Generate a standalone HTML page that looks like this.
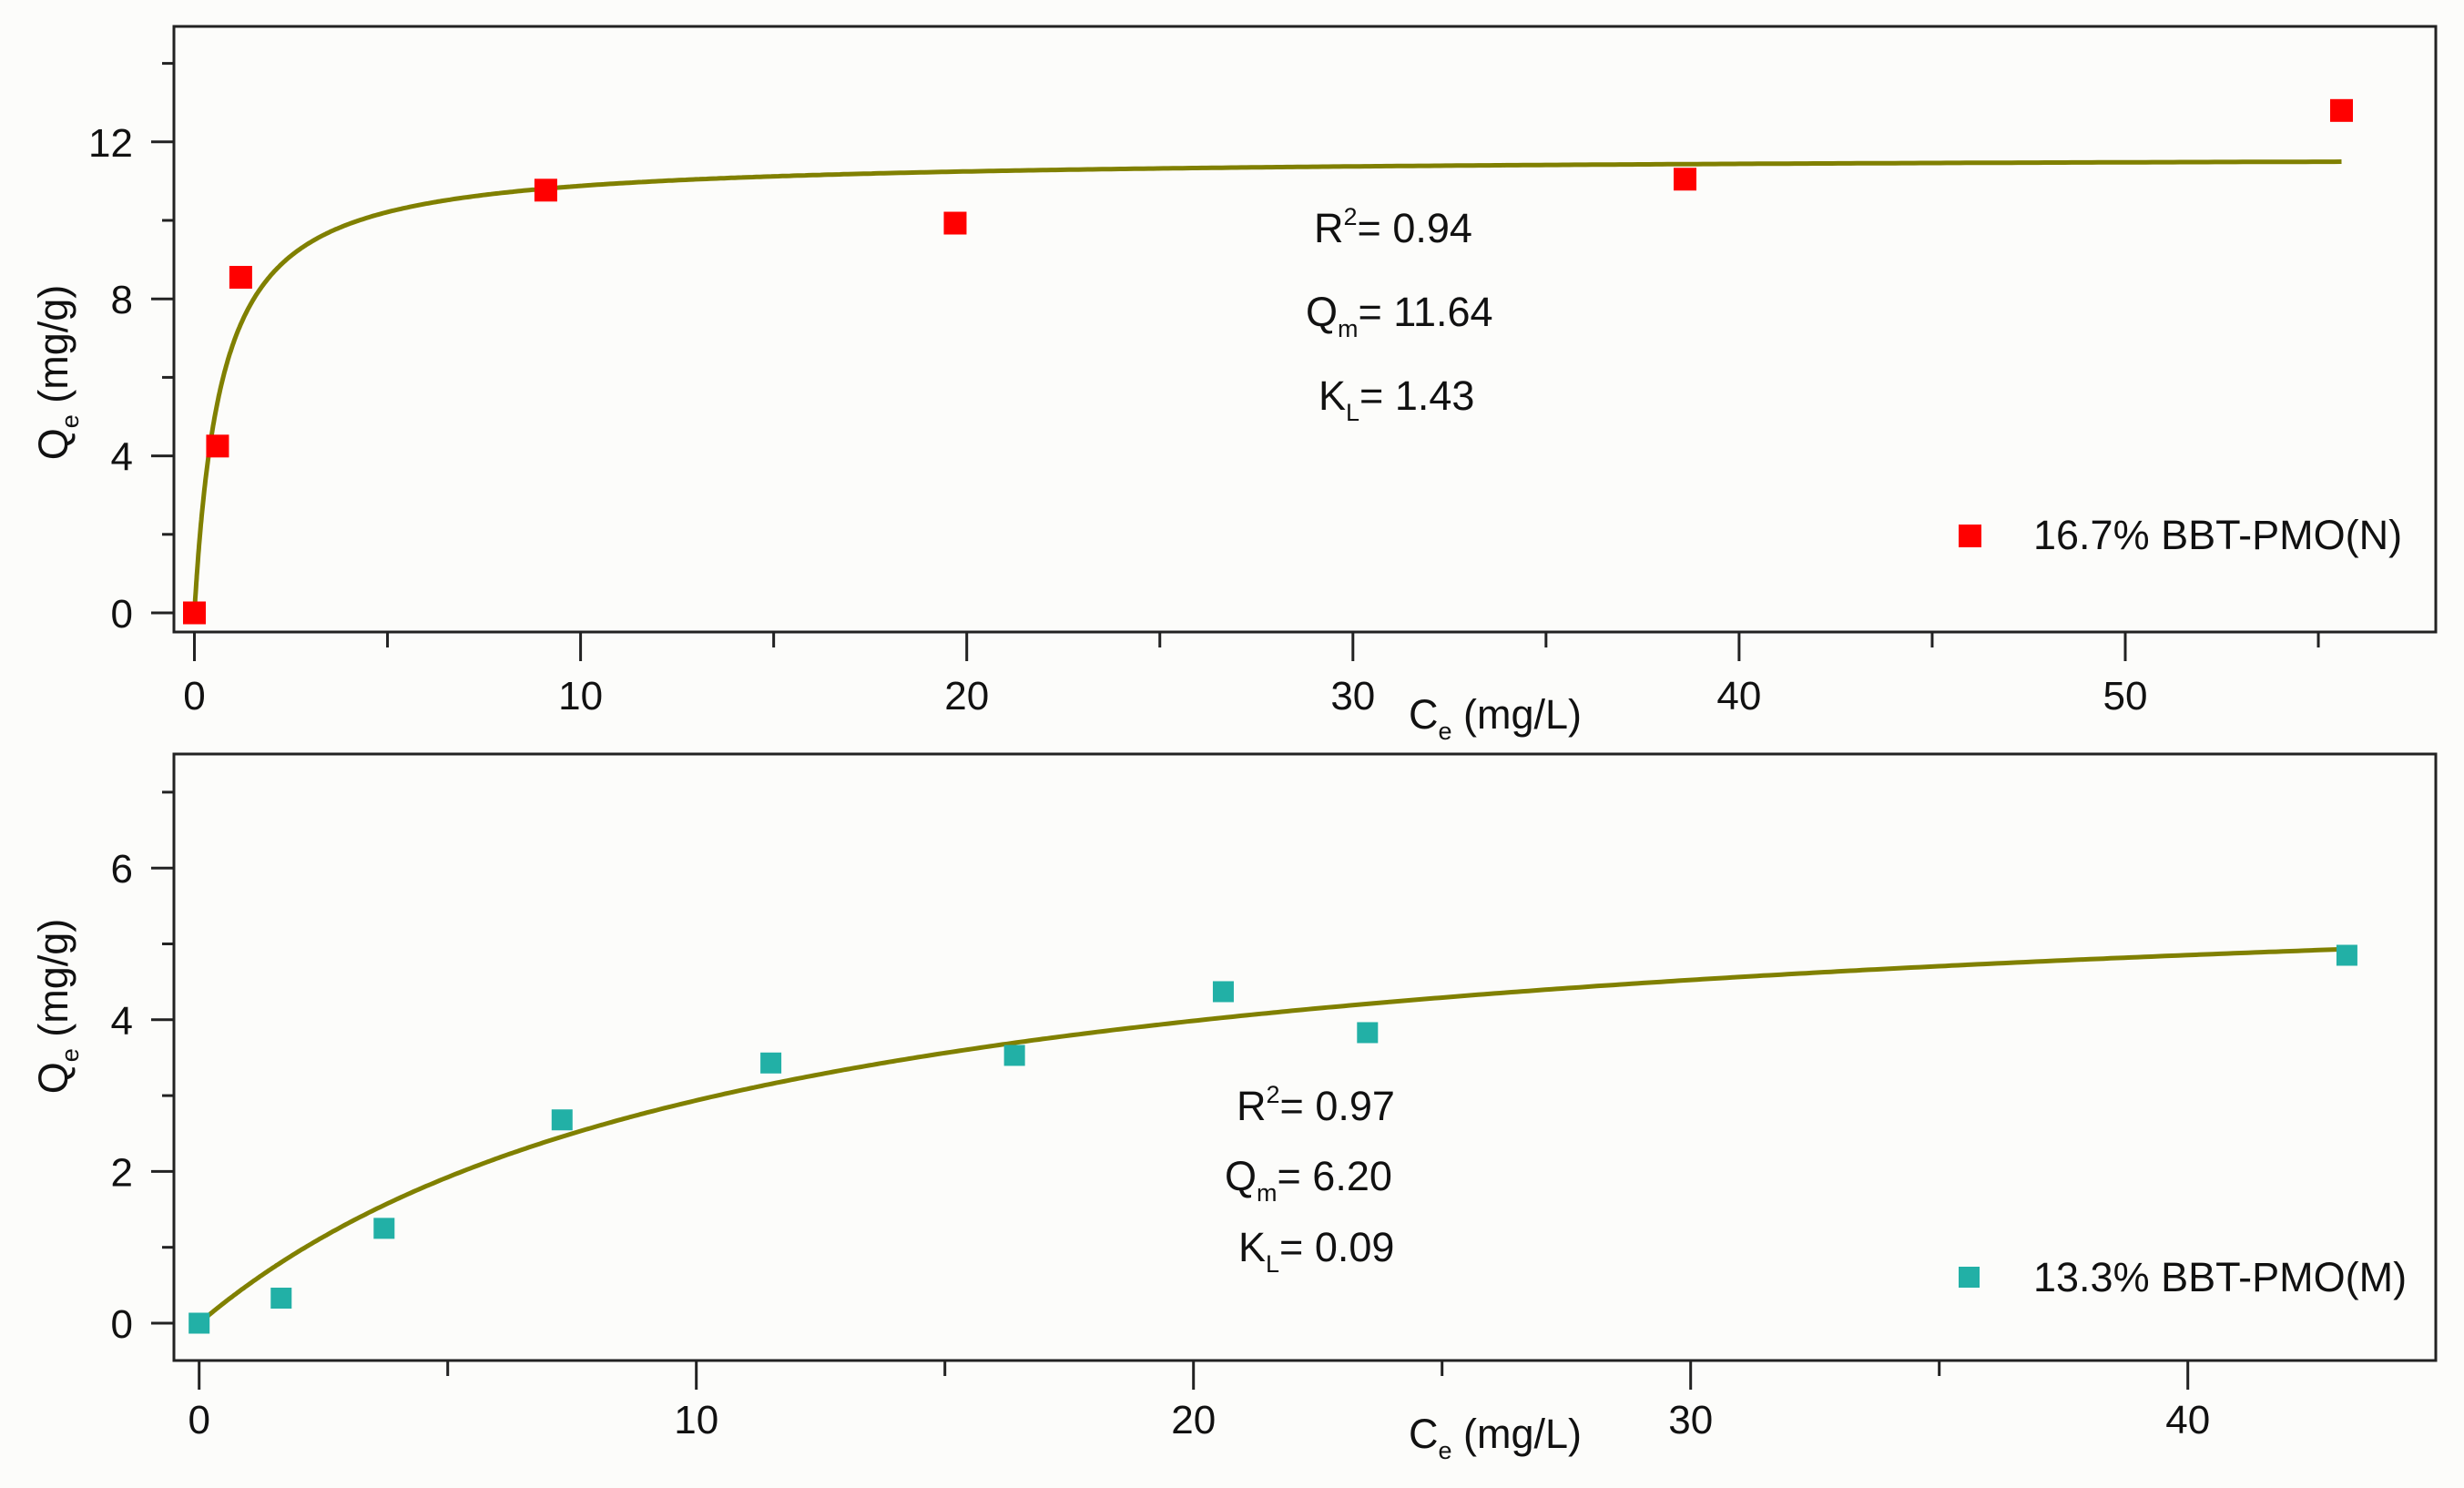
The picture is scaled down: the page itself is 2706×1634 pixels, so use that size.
<!DOCTYPE html>
<html><head><meta charset="utf-8"><style>
html,body{margin:0;padding:0;background:#fcfcfa;}
svg{display:block;font-family:"Liberation Sans",Arial,sans-serif;}
</style></head><body>
<svg id="fig" width="2706" height="1634" viewBox="0 0 2706 1634" xmlns="http://www.w3.org/2000/svg">
<rect x="0" y="0" width="2706" height="1634" fill="#fcfcfa"/>
<g id="top"></g>
<g id="bot"></g>
</svg>
<script>
// Top panel data
const topCe = [0, 0.6, 1.2, 9.1, 19.7, 38.6, 55.6];
const topQe = [0, 4.25, 8.55, 10.77, 9.93, 11.05, 12.8];
const topQm = 11.64;
const topKL = 1.43;
const topXTicks = [0, 10, 20, 30, 40, 50];
const topYTicks = [0, 4, 8, 12];
// Bottom panel data
const botCe = [0, 1.65, 3.72, 7.3, 11.5, 16.4, 20.6, 23.5, 43.2];
const botQe = [0, 0.33, 1.25, 2.68, 3.43, 3.53, 4.37, 3.83, 4.85];
const botQm = 6.20;
const botKL = 0.09;
const botXTicks = [0, 10, 20, 30, 40];
const botYTicks = [0, 2, 4, 6];

const NS = "http://www.w3.org/2000/svg";
function mk(parent, tag, attrs, text){
  const e = document.createElementNS(NS, tag);
  for (const k in attrs) e.setAttribute(k, attrs[k]);
  if (text !== undefined) e.textContent = text;
  parent.appendChild(e);
  return e;
}

function panel(g, cfg){
  const sx = v => cfg.x0 + v * cfg.xs;
  const sy = v => cfg.y0 - v * cfg.ys;
  const frame = mk(g, "rect", {x:cfg.L, y:cfg.T, width:cfg.R-cfg.L, height:cfg.B-cfg.T, fill:"none", stroke:"#222", "stroke-width":3});
  
  
  for (let v = 0; sx(v) < cfg.R; v += cfg.xMinor){
    const major = Math.abs(v / cfg.xMajor - Math.round(v / cfg.xMajor)) < 1e-6;
    const t = mk(g, "line", {x1:sx(v), x2:sx(v), y1:cfg.B, y2:cfg.B + (major?32:17), stroke:"#222", "stroke-width":3});
    
    
  }
  cfg.xTicks.forEach(v => {
    const t = mk(g, "text", {x:sx(v), y:cfg.xLabY, "text-anchor":"middle", "font-size":44, fill:"#111"}, String(v));
    
    
  });
  for (let v = 0; sy(v) > cfg.T; v += cfg.yMinor){
    const major = Math.abs(v / cfg.yMajor - Math.round(v / cfg.yMajor)) < 1e-6;
    const t = mk(g, "line", {x1:cfg.L - (major?25:13), x2:cfg.L, y1:sy(v), y2:sy(v), stroke:"#222", "stroke-width":3});
    
    
  }
  cfg.yTicks.forEach(v => {
    const t = mk(g, "text", {x:cfg.L - 45, y:sy(v) + 16, "text-anchor":"end", "font-size":44, fill:"#111"}, String(v));
    
    
  });
  let d = "";
  const xmax = cfg.ce[cfg.ce.length - 1];
  for (let i = 0; i <= 600; i++){
    const c = xmax * Math.pow(i / 600, 2);
    const q = cfg.qm * cfg.kl * c / (1 + cfg.kl * c);
    d += (i ? "L" : "M") + sx(c).toFixed(1) + "," + sy(q).toFixed(1);
  }
  const path = mk(g, "path", {d:d, fill:"none", stroke:"#808000", "stroke-width":5});
  
  
  cfg.ce.forEach((c, i) => {
    const r = mk(g, "rect", {x:sx(c) - cfg.ms/2, y:sy(cfg.qe[i]) - cfg.ms/2, width:cfg.ms, height:cfg.ms, fill:cfg.color});
    
    
  });
  const lm = mk(g, "rect", {x:cfg.legX, y:cfg.legY - 25, width:cfg.ms, height:cfg.ms, fill:cfg.color});
  
  
  const lt = mk(g, "text", {x:cfg.legX + 82, y:cfg.legY + 2, "font-size":45, fill:"#111"}, cfg.legend);
  
  
  const a1 = mk(g, "text", {x:cfg.annX[0], y:cfg.annY[0], "font-size":45, fill:"#111"});
  
  
  mk(a1, "tspan", {}, "R");
  mk(a1, "tspan", {"font-size":27, dy:-19}, "2");
  mk(a1, "tspan", {dy:19}, "= " + cfg.r2);
  const a2 = mk(g, "text", {x:cfg.annX[1], y:cfg.annY[1], "font-size":45, fill:"#111"});
  
  
  mk(a2, "tspan", {}, "Q");
  mk(a2, "tspan", {"font-size":27, dy:12}, "m");
  mk(a2, "tspan", {dy:-12}, "= " + cfg.qm.toFixed(2));
  const a3 = mk(g, "text", {x:cfg.annX[2], y:cfg.annY[2], "font-size":45, fill:"#111"});
  
  
  mk(a3, "tspan", {}, "K");
  mk(a3, "tspan", {"font-size":27, dy:12}, "L");
  mk(a3, "tspan", {dy:-12}, "= " + cfg.kl.toFixed(2));
  const xt = mk(g, "text", {x:cfg.xtX, y:cfg.xtY, "font-size":45, fill:"#111"});
  
  
  mk(xt, "tspan", {}, "C");
  mk(xt, "tspan", {"font-size":27, dy:12}, "e");
  mk(xt, "tspan", {dy:-12}, " (mg/L)");
  const yt = mk(g, "text", {x:0, y:0, "font-size":45, fill:"#111", "text-anchor":"middle", transform:"translate(" + (cfg.ytX) + "," + cfg.ytY + ") rotate(-90)"});
  
  
  mk(yt, "tspan", {}, "Q");
  mk(yt, "tspan", {"font-size":27, dy:12}, "e");
  mk(yt, "tspan", {dy:-12}, " (mg/g)");
}

panel(document.getElementById("top"), {
  p:"top", L:191, R:2675, T:29, B:694, x0:213.5, xs:42.41, y0:673, ys:43.1,
  xMinor:5, xMajor:10, yMinor:2, yMajor:4, xTicks:topXTicks, yTicks:topYTicks, xLabY:779,
  ce:topCe, qe:topQe, qm:topQm, kl:topKL, ms:25, color:"#ff0000",
  legX:2151, legY:601, legend:"16.7% BBT-PMO(N)", r2:"0.94",
  annX:[1443,1434,1448], annY:[266,358,450], xtX:1547, xtY:800, ytX:74, ytY:409
});
panel(document.getElementById("bot"), {
  p:"bottom", L:191, R:2675, T:828, B:1494, x0:218.7, xs:54.6, y0:1453, ys:83.3,
  xMinor:5, xMajor:10, yMinor:1, yMajor:2, xTicks:botXTicks, yTicks:botYTicks, xLabY:1574,
  ce:botCe, qe:botQe, qm:botQm, kl:botKL, ms:23, color:"#22b0a6",
  legX:2151, legY:1416, legend:"13.3% BBT-PMO(M)", r2:"0.97",
  annX:[1358,1345,1360], annY:[1230,1307,1385], xtX:1547, xtY:1590, ytX:74, ytY:1105
});
</script>
</body></html>
